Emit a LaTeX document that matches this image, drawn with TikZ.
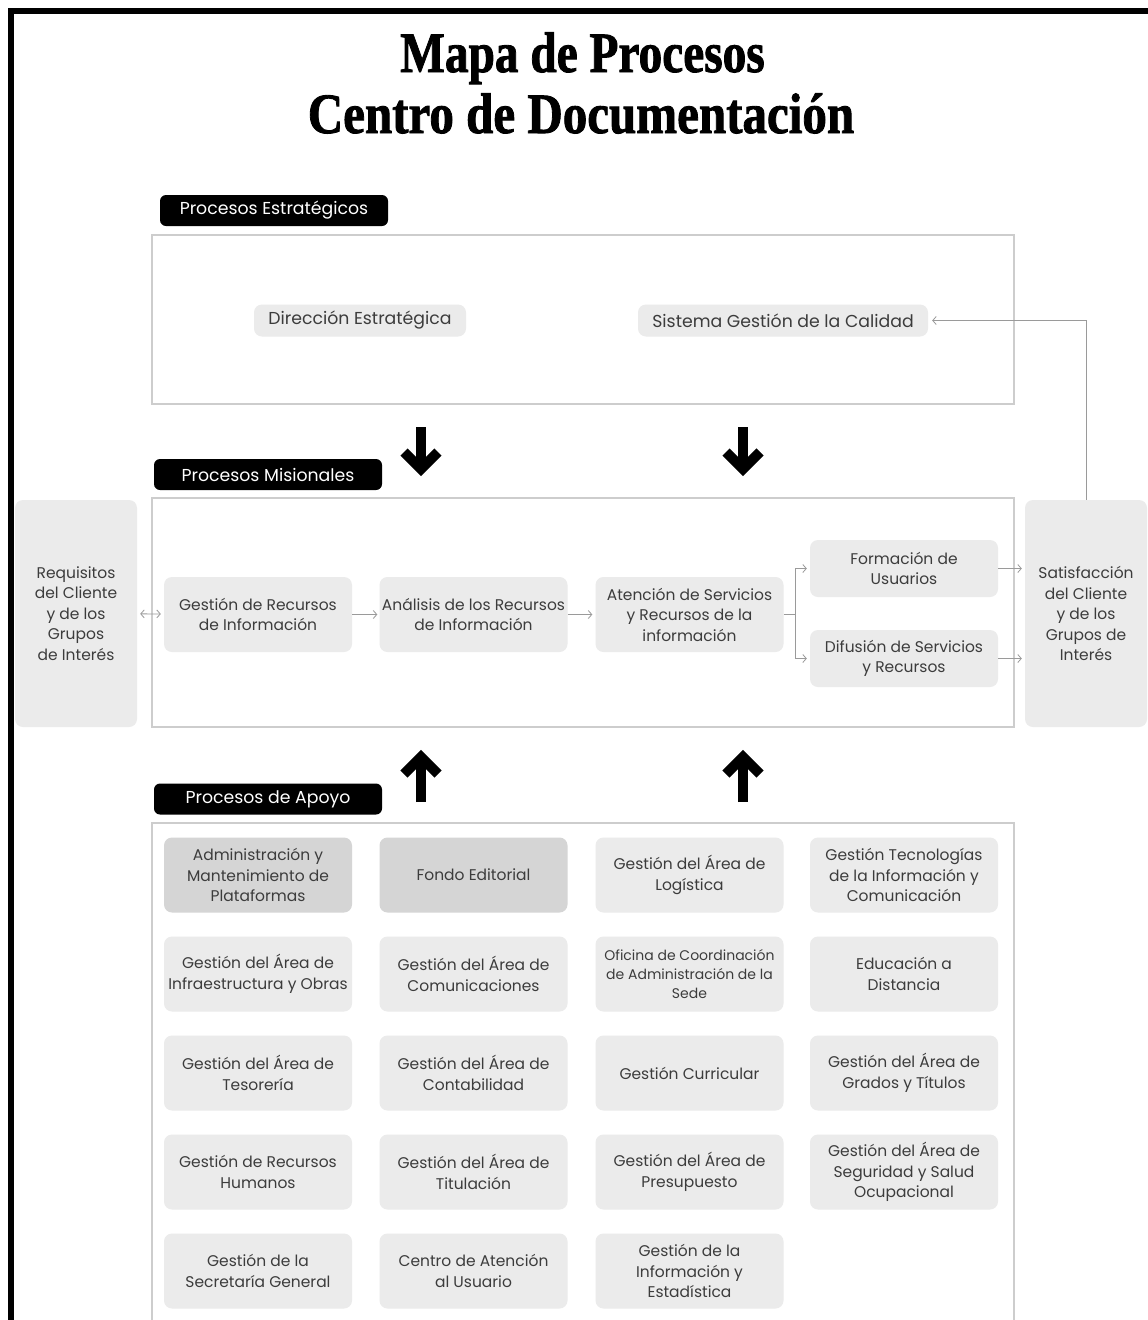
\documentclass[tikz,border=0pt]{standalone}
\usepackage{fontspec}
\setmainfont{Poppins}
\newfontfamily\titlefont[FakeBold=1.6]{Liberation Serif}
\usetikzlibrary{arrows.meta,calc}

\definecolor{boxgray}{HTML}{EBEBEB}
\definecolor{darkgray}{HTML}{D5D5D5}
\definecolor{framegray}{HTML}{CDCDCD}
\definecolor{txtgray}{HTML}{3C3C3C}
\definecolor{conngray}{HTML}{9A9A9A}

\tikzset{
  tag/.style={fill=black, text=white, rounded corners=6, inner sep=0,
    minimum width=228, minimum height=31, font=\fontsize{17.3}{20}\selectfont},
  frame/.style={draw=framegray, line width=1.3, inner sep=0},
  proc/.style={fill=boxgray, rounded corners=8, text=txtgray, align=center,
    inner sep=0, minimum width=188, minimum height=75,
    font=\fontsize{15.5}{20.5}\selectfont},
  procdark/.style={proc, fill=darkgray},
  pill/.style={proc, minimum height=32, font=\fontsize{17.3}{20}\selectfont},
  sidebox/.style={proc, minimum width=122, minimum height=227},
  conn/.style={draw=conngray, line width=0.8, -{Straight Barb[length=3.5,width=8]}},
  bigarrow/.style={draw=black, line width=10, miter limit=4, line join=miter},
  titletxt/.style={font=\titlefont\bfseries\fontsize{57}{60}\selectfont, anchor=base}
}

\begin{document}
\begin{tikzpicture}[x=1pt, y=-1pt]
\useasboundingbox (0,0) rectangle (1148,1320);
\clip (0,0) rectangle (1148,1320);
\fill[white] (0,0) rectangle (1148,1320);

% outer black border
\draw[line width=6] (1160,11) -- (11,11) -- (11,1330);

% title
\node[titletxt] (t1) at (582.5,72) {\scalebox{0.83}[1]{Mapa de Procesos}};
\node[titletxt] (t2) at (581,133) {\scalebox{0.86}[1]{Centro de Documentación}};

% ---------- strategic processes ----------
\node[frame, minimum width=862, minimum height=169] (estr) at (583,319.5) {};
\node[tag] (tagE) at (274,210.5) {Procesos Estratégicos};
\node[pill, minimum width=212] (dir) at (360,320.5) {Dirección Estratégica};
\node[pill, minimum width=290] (sgc) at (783,320.5) {Sistema Gestión de la Calidad};

% ---------- mission processes ----------
\node[frame, minimum width=862, minimum height=229] (mis) at (583,612.5) {};
\node[tag] (tagM) at (268,474.5) {Procesos Misionales};

\node[sidebox] (req) at (76,613.5) {Requisitos\\del Cliente\\y de los\\Grupos\\de Interés};
\node[sidebox] (sat) at (1086,613.5) {Satisfacción\\del Cliente\\y de los\\Grupos de\\Interés};

\node[proc] (gri) at (258,614.5) {Gestión de Recursos\\de Información};
\node[proc] (ana) at (473.5,614.5) {Análisis de los Recursos\\de Información};
\node[proc] (ate) at (689.5,614.5) {Atención de Servicios\\y Recursos de la\\información};
\node[proc, minimum height=57] (for) at (904,568.5) {Formación de\\Usuarios};
\node[proc, minimum height=57] (dif) at (904,658.5) {Difusión de Servicios\\y Recursos};

\draw[conn, {Straight Barb[length=3.5,width=8]}-{Straight Barb[length=3.5,width=8]}, shorten <=3, shorten >=3] (req) -- (gri);
\draw[conn, shorten >=2] (gri) -- (ana);
\draw[conn, shorten >=3] (ana) -- (ate);
\draw[draw=conngray, line width=0.8] (ate.east) -- ++(12,0) coordinate (fork);
\draw[conn, shorten >=3] (fork) |- (for.west);
\draw[conn, shorten >=3] (fork) |- (dif.west);
\draw[conn, shorten >=3] (for.east) -- (for.east -| sat.west);
\draw[conn, shorten >=3] (dif.east) -- (dif.east -| sat.west);
\draw[conn, shorten >=4] (sat.north) |- (sgc.east);

% ---------- support processes ----------
\node[frame, minimum width=862, minimum height=520] (apo) at (583,1083) {};
\node[tag] (tagA) at (268,799) {Procesos de Apoyo};

\node[procdark] (a11) at (258,875) {Administración y\\Mantenimiento de\\Plataformas};
\node[procdark] (a12) at (473.5,875) {Fondo Editorial};
\node[proc] (a13) at (689.5,875) {Gestión del Área de\\Logística};
\node[proc] (a14) at (904,875) {Gestión Tecnologías\\de la Información y\\Comunicación};

\node[proc] (a21) at (258,974) {Gestión del Área de\\Infraestructura y Obras};
\node[proc] (a22) at (473.5,974) {Gestión del Área de\\Comunicaciones};
\node[proc, font=\fontsize{14}{19}\selectfont] (a23) at (689.5,974) {Oficina de Coordinación\\de Administración de la\\Sede};
\node[proc] (a24) at (904,974) {Educación a\\Distancia};

\node[proc] (a31) at (258,1073) {Gestión del Área de\\Tesorería};
\node[proc] (a32) at (473.5,1073) {Gestión del Área de\\Contabilidad};
\node[proc] (a33) at (689.5,1073) {Gestión Curricular};
\node[proc] (a34) at (904,1073) {Gestión del Área de\\Grados y Títulos};

\node[proc] (a41) at (258,1172) {Gestión de Recursos\\Humanos};
\node[proc] (a42) at (473.5,1172) {Gestión del Área de\\Titulación};
\node[proc] (a43) at (689.5,1172) {Gestión del Área de\\Presupuesto};
\node[proc] (a44) at (904,1172) {Gestión del Área de\\Seguridad y Salud\\Ocupacional};

\node[proc] (a51) at (258,1271) {Gestión de la\\Secretaría General};
\node[proc] (a52) at (473.5,1271) {Centro de Atención\\al Usuario};
\node[proc] (a53) at (689.5,1271) {Gestión de la\\Información y\\Estadística};

% ---------- block arrows between levels ----------
\foreach \cx/\nm in {421/L, 743/R} {
  % downward: strategic -> mission
  \coordinate (dtop\nm) at (\cx,427);
  \coordinate (dtip\nm) at (\cx,469);
  \draw[bigarrow] (dtop\nm) -- ($(dtip\nm)+(0,-4)$);
  \draw[bigarrow] ($(dtip\nm)+(-17,-17)$) -- (dtip\nm) -- ($(dtip\nm)+(17,-17)$);
  % upward: support -> mission
  \coordinate (ubot\nm) at (\cx,802);
  \coordinate (utip\nm) at (\cx,757);
  \draw[bigarrow] (ubot\nm) -- ($(utip\nm)+(0,4)$);
  \draw[bigarrow] ($(utip\nm)+(-17,17)$) -- (utip\nm) -- ($(utip\nm)+(17,17)$);
}
\end{tikzpicture}
\end{document}
